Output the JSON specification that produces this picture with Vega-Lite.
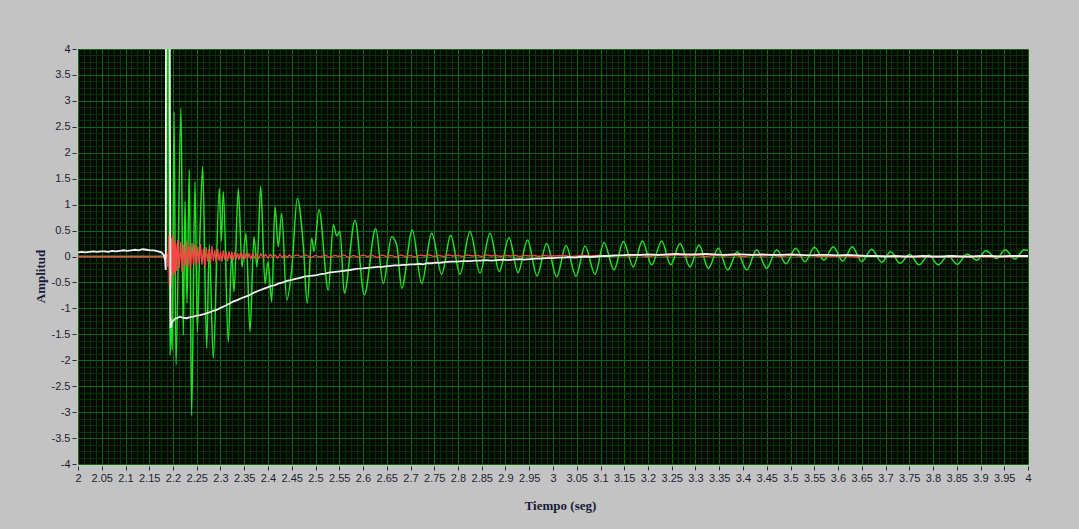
{
  "$schema": "https://vega.github.io/schema/vega-lite/v6.json",
  "width": 950,
  "height": 415,
  "autosize": {"type": "none"},
  "padding": {"left": 78, "top": 49, "right": 51, "bottom": 65},
  "background": "#c3c3c3",
  "config": {"view": {"fill": "#010901", "stroke": null}},
  "datasets": {
    "green": [
      {"t":2,"v":0},{"t":2.1866,"v":0},{"t":2.1874,"v":4.6},{"t":2.1898,"v":4.6},{"t":2.1937,"v":-1.9},{"t":2.1965,"v":-1.2},{"t":2.1985,"v":-1.8},
      {"t":2.2021,"v":2.79},{"t":2.2063,"v":-2.09},{"t":2.2168,"v":2.86},{"t":2.2216,"v":-1.51},{"t":2.2253,"v":1.06},{"t":2.2295,"v":-0.9},
      {"t":2.2343,"v":1.67},{"t":2.2392,"v":-3.06},{"t":2.2463,"v":1.44},{"t":2.2512,"v":-1.45},{"t":2.257,"v":0.5},{"t":2.2625,"v":1.73},
      {"t":2.2709,"v":-1.77},{"t":2.2764,"v":0.22},{"t":2.2848,"v":-1.96},{"t":2.2975,"v":1.31},{"t":2.3017,"v":0.3},{"t":2.3059,"v":1.25},
      {"t":2.3164,"v":-1.64},{"t":2.3236,"v":0.09},{"t":2.3284,"v":-0.68},{"t":2.3375,"v":1.31},{"t":2.3453,"v":-0.2},{"t":2.3537,"v":0.45},
      {"t":2.3621,"v":-1.45},{"t":2.3705,"v":0.38},{"t":2.3768,"v":-0.2},{"t":2.3846,"v":1.35},{"t":2.3937,"v":-0.52},{"t":2.4,"v":-0.1},
      {"t":2.4078,"v":-0.87},{"t":2.4147,"v":0.96},{"t":2.4217,"v":0.19},{"t":2.4288,"v":0.83},{"t":2.4394,"v":-0.84},{"t":2.4499,"v":-0.26},
      {"t":2.4617,"v":1.12},{"t":2.4743,"v":0.22},{"t":2.4827,"v":-0.9},{"t":2.492,"v":0.35},{"t":2.4968,"v":0.1},{"t":2.5074,"v":0.9},
      {"t":2.527,"v":-0.65},{"t":2.5375,"v":0.61},{"t":2.5446,"v":0.4},{"t":2.5516,"v":0.48},{"t":2.5606,"v":-0.71},{"t":2.5832,"v":0.7},
      {"t":2.6027,"v":-0.74},{"t":2.6267,"v":0.54},{"t":2.6427,"v":-0.52},{"t":2.6604,"v":0.38},{"t":2.6709,"v":0.22},{"t":2.6815,"v":-0.61},
      {"t":2.7038,"v":0.51},{"t":2.7236,"v":-0.52},
      {"t":2.7446,"v":0.45},{"t":2.7657,"v":-0.34},{"t":2.7846,"v":0.41},{"t":2.8042,"v":-0.34},{"t":2.8253,"v":0.48},{"t":2.8463,"v":-0.32},
      {"t":2.8674,"v":0.45},{"t":2.8869,"v":-0.29},{"t":2.9074,"v":0.36},{"t":2.9263,"v":-0.31},{"t":2.9463,"v":0.32},{"t":2.9663,"v":-0.37},
      {"t":2.9867,"v":0.25},{"t":3.0078,"v":-0.39},{"t":3.0274,"v":0.21},{"t":3.0484,"v":-0.38},{"t":3.0674,"v":0.2},{"t":3.0884,"v":-0.34},
      {"t":3.1074,"v":0.27},{"t":3.1284,"v":-0.26},{"t":3.148,"v":0.29},{"t":3.1691,"v":-0.2},{"t":3.188,"v":0.3},{"t":3.2078,"v":-0.16},
      {"t":3.2288,"v":0.3},{"t":3.2478,"v":-0.16},{"t":3.2674,"v":0.25},{"t":3.2884,"v":-0.2},{"t":3.3074,"v":0.22},{"t":3.327,"v":-0.23},
      {"t":3.348,"v":0.16},{"t":3.3678,"v":-0.26},{"t":3.388,"v":0.09},{"t":3.4078,"v":-0.26},{"t":3.4288,"v":0.13},{"t":3.4499,"v":-0.23},
      {"t":3.4709,"v":0.13},{"t":3.4905,"v":-0.14},{"t":3.5109,"v":0.16},{"t":3.5305,"v":-0.1},{"t":3.5505,"v":0.18},{"t":3.5705,"v":-0.07},
      {"t":3.5901,"v":0.19},{"t":3.6099,"v":-0.09},{"t":3.6301,"v":0.19},{"t":3.6499,"v":-0.1},{"t":3.6709,"v":0.14},{"t":3.692,"v":-0.11},
      {"t":3.7109,"v":0.09},{"t":3.7305,"v":-0.13},{"t":3.7509,"v":0.04},{"t":3.7705,"v":-0.16},{"t":3.7912,"v":0.03},{"t":3.8112,"v":-0.16},
      {"t":3.8314,"v":0.02},{"t":3.8512,"v":-0.15},{"t":3.8716,"v":0.05},{"t":3.892,"v":-0.07},{"t":3.9116,"v":0.11},{"t":3.9341,"v":-0.04},
      {"t":3.9516,"v":0.13},{"t":3.9726,"v":-0.05},{"t":3.9916,"v":0.13},{"t":4,"v":0.12}
    ],
    "red": [
      {"t":2,"v":0},{"t":2.186,"v":0},{"t":2.188,"v":0.05},{"t":2.1895,"v":-0.2},{"t":2.191,"v":0.4},{"t":2.1925,"v":-0.55},{"t":2.194,"v":0.45},
      {"t":2.1955,"v":-0.6},{"t":2.197,"v":0.35},{"t":2.1985,"v":-0.4},{"t":2.2,"v":0.42},{"t":2.2015,"v":-0.3},{"t":2.203,"v":0.3},
      {"t":2.2045,"v":-0.35},{"t":2.206,"v":0.25},{"t":2.2078,"v":-0.28},{"t":2.21,"v":0.32},{"t":2.213,"v":-0.22},{"t":2.216,"v":0.28},
      {"t":2.219,"v":-0.3},{"t":2.222,"v":0.22},{"t":2.225,"v":-0.18},{"t":2.228,"v":0.3},{"t":2.231,"v":-0.2},{"t":2.234,"v":0.2},
      {"t":2.237,"v":-0.25},{"t":2.24,"v":0.26},{"t":2.243,"v":-0.15},{"t":2.246,"v":0.22},{"t":2.249,"v":-0.2},{"t":2.252,"v":0.18},
      {"t":2.255,"v":-0.12},{"t":2.258,"v":0.24},{"t":2.261,"v":-0.16},{"t":2.264,"v":0.15},{"t":2.267,"v":-0.2},{"t":2.27,"v":0.18},
      {"t":2.273,"v":-0.1},{"t":2.276,"v":0.14},{"t":2.279,"v":-0.14},{"t":2.282,"v":0.2},{"t":2.285,"v":-0.08},{"t":2.288,"v":0.12},
      {"t":2.291,"v":-0.12},{"t":2.294,"v":0.15},{"t":2.297,"v":-0.08},{"t":2.3,"v":0.1},{"t":2.303,"v":-0.1},{"t":2.306,"v":0.12},
      {"t":2.309,"v":-0.06},{"t":2.312,"v":0.09},{"t":2.315,"v":-0.09},{"t":2.318,"v":0.1},{"t":2.321,"v":-0.05},{"t":2.324,"v":0.08},
      {"t":2.327,"v":-0.07},{"t":2.33,"v":0.09},{"t":2.333,"v":-0.05},{"t":2.336,"v":0.06},{"t":2.339,"v":-0.06},{"t":2.342,"v":0.08},
      {"t":2.345,"v":-0.04},{"t":2.348,"v":0.05},{"t":2.351,"v":-0.05},{"t":2.354,"v":0.07},{"t":2.357,"v":-0.03},{"t":2.36,"v":0.05},
      {"t":2.364,"v":-0.04},{"t":2.368,"v":0.06},{"t":2.372,"v":-0.03},{"t":2.376,"v":0.04},{"t":2.38,"v":-0.04},{"t":2.385,"v":0.05},
      {"t":2.39,"v":-0.02},{"t":2.395,"v":0.04},{"t":2.4,"v":-0.03},{"t":2.405,"v":0.04},{"t":2.41,"v":-0.02},{"t":2.415,"v":0.03},
      {"t":2.42,"v":-0.03},{"t":2.425,"v":0.04},{"t":2.43,"v":-0.02},{"t":2.435,"v":0.03},{"t":2.44,"v":-0.02},{"t":2.445,"v":0.03},
      {"t":2.45,"v":-0.01},{"t":2.46,"v":0.03},{"t":2.47,"v":0},{"t":2.48,"v":0.03},{"t":2.49,"v":-0.02},{"t":2.5,"v":0.02},{"t":2.51,"v":-0.01},
      {"t":2.52,"v":0.03},{"t":2.53,"v":-0.02},{"t":2.54,"v":0.02},{"t":2.55,"v":0},{"t":2.56,"v":0.03},{"t":2.57,"v":-0.02},{"t":2.58,"v":0.02},
      {"t":2.59,"v":-0.01},{"t":2.6,"v":0.03},{"t":2.61,"v":0},{"t":2.62,"v":0.02},{"t":2.63,"v":-0.02},{"t":2.64,"v":0.03},{"t":2.65,"v":0},
      {"t":2.66,"v":0.02},{"t":2.67,"v":-0.01},{"t":2.68,"v":0.03},{"t":2.69,"v":0},{"t":2.7,"v":0.02},{"t":2.71,"v":-0.01},{"t":2.72,"v":0.03},
      {"t":2.73,"v":0.01},{"t":2.74,"v":0.03},{"t":2.75,"v":0},{"t":2.76,"v":0.02},{"t":2.77,"v":0},{"t":2.78,"v":0.03},{"t":2.79,"v":0.01},
      {"t":2.8,"v":0.02},{"t":2.81,"v":0},{"t":2.82,"v":0.03},{"t":2.83,"v":0.01},{"t":2.84,"v":0.02},{"t":2.85,"v":0},{"t":2.86,"v":0.03},
      {"t":2.87,"v":0.01},{"t":2.88,"v":0.02},{"t":2.89,"v":0},{"t":2.9,"v":0.02},{"t":2.91,"v":0.01},{"t":2.92,"v":0.02},{"t":2.93,"v":0},
      {"t":2.94,"v":0.02},{"t":2.95,"v":0.01},{"t":2.96,"v":0.02},{"t":2.97,"v":0},{"t":2.98,"v":0.02},{"t":2.99,"v":0.01},{"t":3,"v":0.01},
      {"t":3.02,"v":0.02},{"t":3.04,"v":0},{"t":3.06,"v":0.02},{"t":3.08,"v":0.01},{"t":3.1,"v":0.02},{"t":3.12,"v":0},{"t":3.14,"v":0.02},
      {"t":3.16,"v":0.01},{"t":3.18,"v":0.02},{"t":3.2,"v":0},{"t":3.22,"v":0.02},{"t":3.24,"v":0.01},{"t":3.26,"v":0.03},{"t":3.28,"v":0.01},
      {"t":3.3,"v":0.02},{"t":3.32,"v":0},{"t":3.34,"v":0.02},{"t":3.36,"v":0.01},{"t":3.38,"v":0.02},{"t":3.4,"v":0},{"t":3.42,"v":0.02},
      {"t":3.44,"v":0.01},{"t":3.46,"v":0.02},{"t":3.48,"v":0},{"t":3.5,"v":0.02},{"t":3.52,"v":0.01},{"t":3.54,"v":0.02},{"t":3.56,"v":0},
      {"t":3.58,"v":0.01},{"t":3.6,"v":0},{"t":3.62,"v":0.01},{"t":3.64,"v":-0.01},{"t":3.66,"v":0.01},{"t":3.68,"v":0},{"t":3.7,"v":0.01},
      {"t":3.72,"v":-0.01},{"t":3.74,"v":0},{"t":3.76,"v":-0.01},{"t":3.78,"v":0},{"t":3.8,"v":-0.01},{"t":3.82,"v":0},{"t":3.84,"v":-0.01},
      {"t":3.86,"v":0},{"t":3.88,"v":-0.01},{"t":3.9,"v":0},{"t":3.92,"v":-0.01},{"t":3.94,"v":0},{"t":3.96,"v":-0.01},{"t":3.98,"v":0},{"t":4,"v":0}
    ],
    "white": [
      {"t":2,"v":0.08},{"t":2.008,"v":0.09},{"t":2.016,"v":0.08},{"t":2.024,"v":0.09},{"t":2.032,"v":0.1},{"t":2.04,"v":0.09},{"t":2.048,"v":0.1},
      {"t":2.056,"v":0.1},{"t":2.064,"v":0.09},{"t":2.072,"v":0.11},{"t":2.08,"v":0.1},{"t":2.088,"v":0.11},{"t":2.096,"v":0.12},{"t":2.104,"v":0.11},
      {"t":2.112,"v":0.12},{"t":2.12,"v":0.13},{"t":2.128,"v":0.12},{"t":2.136,"v":0.14},{"t":2.144,"v":0.13},{"t":2.152,"v":0.12},{"t":2.16,"v":0.12},
      {"t":2.168,"v":0.1},{"t":2.176,"v":0.08},{"t":2.181,"v":0.02},{"t":2.1835,"v":-0.08},{"t":2.1847,"v":-0.26},{"t":2.1852,"v":4.6},
      {"t":2.1932,"v":4.6},{"t":2.1936,"v":2.6},{"t":2.195,"v":-1.38},{"t":2.1973,"v":-1.28},{"t":2.2005,"v":-1.24},{"t":2.2042,"v":-1.2},
      {"t":2.208,"v":-1.19},{"t":2.2147,"v":-1.16},{"t":2.22,"v":-1.18},{"t":2.2288,"v":-1.19},{"t":2.236,"v":-1.17},{"t":2.2427,"v":-1.16},
      {"t":2.25,"v":-1.14},{"t":2.2568,"v":-1.13},{"t":2.265,"v":-1.11},{"t":2.275,"v":-1.08},{"t":2.284,"v":-1.05},{"t":2.292,"v":-1.03},
      {"t":2.3,"v":-0.99},{"t":2.31,"v":-0.95},{"t":2.318,"v":-0.91},{"t":2.3263,"v":-0.87},{"t":2.335,"v":-0.84},{"t":2.345,"v":-0.8},
      {"t":2.354,"v":-0.77},{"t":2.3621,"v":-0.74},{"t":2.372,"v":-0.69},{"t":2.38,"v":-0.66},{"t":2.389,"v":-0.63},{"t":2.3973,"v":-0.6},
      {"t":2.406,"v":-0.57},{"t":2.415,"v":-0.55},{"t":2.423,"v":-0.52},{"t":2.4316,"v":-0.5},{"t":2.44,"v":-0.47},{"t":2.45,"v":-0.45},
      {"t":2.458,"v":-0.43},{"t":2.4674,"v":-0.41},{"t":2.476,"v":-0.39},{"t":2.485,"v":-0.38},{"t":2.494,"v":-0.37},{"t":2.5025,"v":-0.36},
      {"t":2.511,"v":-0.34},{"t":2.52,"v":-0.33},{"t":2.528,"v":-0.31},{"t":2.5368,"v":-0.3},{"t":2.546,"v":-0.29},{"t":2.555,"v":-0.28},
      {"t":2.564,"v":-0.27},{"t":2.5726,"v":-0.26},{"t":2.586,"v":-0.24},{"t":2.6,"v":-0.23},{"t":2.61,"v":-0.22},{"t":2.621,"v":-0.21},
      {"t":2.63,"v":-0.2},{"t":2.64,"v":-0.2},{"t":2.648,"v":-0.19},{"t":2.6568,"v":-0.18},{"t":2.666,"v":-0.17},{"t":2.675,"v":-0.17},
      {"t":2.684,"v":-0.16},{"t":2.692,"v":-0.16},{"t":2.7,"v":-0.15},{"t":2.71,"v":-0.15},{"t":2.718,"v":-0.14},{"t":2.7263,"v":-0.15},
      {"t":2.735,"v":-0.13},{"t":2.745,"v":-0.13},{"t":2.752,"v":-0.12},{"t":2.7621,"v":-0.12},{"t":2.772,"v":-0.11},{"t":2.785,"v":-0.1},
      {"t":2.797,"v":-0.1},{"t":2.8105,"v":-0.09},{"t":2.825,"v":-0.09},{"t":2.835,"v":-0.08},{"t":2.845,"v":-0.08},{"t":2.86,"v":-0.07},
      {"t":2.87,"v":-0.08},{"t":2.8821,"v":-0.07},{"t":2.895,"v":-0.06},{"t":2.905,"v":-0.07},{"t":2.915,"v":-0.06},{"t":2.93,"v":-0.05},
      {"t":2.94,"v":-0.06},{"t":2.9516,"v":-0.05},{"t":2.965,"v":-0.04},{"t":2.975,"v":-0.04},{"t":2.985,"v":-0.03},{"t":3,"v":-0.03},
      {"t":3.01,"v":-0.02},{"t":3.0211,"v":-0.02},{"t":3.035,"v":-0.01},{"t":3.045,"v":-0.02},{"t":3.055,"v":-0.01},{"t":3.07,"v":0},
      {"t":3.08,"v":-0.01},{"t":3.0926,"v":0},{"t":3.105,"v":0.01},{"t":3.115,"v":0.01},{"t":3.13,"v":0.02},{"t":3.145,"v":0.02},
      {"t":3.155,"v":0.03},{"t":3.1684,"v":0.03},{"t":3.185,"v":0.03},{"t":3.2,"v":0.04},{"t":3.22,"v":0.03},{"t":3.24,"v":0.04},
      {"t":3.26,"v":0.05},{"t":3.28,"v":0.04},{"t":3.3,"v":0.04},{"t":3.32,"v":0.05},{"t":3.34,"v":0.04},{"t":3.36,"v":0.03},
      {"t":3.38,"v":0.04},{"t":3.4,"v":0.04},{"t":3.42,"v":0.03},{"t":3.44,"v":0.04},{"t":3.46,"v":0.03},{"t":3.48,"v":0.03},
      {"t":3.5,"v":0.04},{"t":3.52,"v":0.03},{"t":3.54,"v":0.02},{"t":3.56,"v":0.03},{"t":3.58,"v":0.03},{"t":3.6,"v":0.02},
      {"t":3.62,"v":0.03},{"t":3.64,"v":0.02},{"t":3.66,"v":0.01},{"t":3.68,"v":0.01},{"t":3.7,"v":0},{"t":3.72,"v":0.01},
      {"t":3.74,"v":0},{"t":3.76,"v":0},{"t":3.78,"v":0.01},{"t":3.8,"v":0},{"t":3.82,"v":0},{"t":3.84,"v":0.01},{"t":3.86,"v":0},
      {"t":3.88,"v":0},{"t":3.9,"v":0.01},{"t":3.92,"v":0.01},{"t":3.94,"v":0},{"t":3.96,"v":0.01},{"t":3.98,"v":0.01},{"t":4,"v":0.01}
    ]
  },
  "layer": [
    {
      "data": {"name": "green"},
      "mark": {"type": "line", "interpolate": "monotone", "color": "#22e022", "strokeWidth": 1.5, "clip": true},
      "encoding": {
        "x": {"field": "t", "type": "quantitative", "scale": {"domain": [2, 4], "nice": false, "zero": false},
          "axis": {"orient": "bottom", "title": null, "labels": false, "ticks": false, "domain": false, "grid": true, "gridColor": "#063206", "gridOpacity": 1, "gridWidth": 1,
            "values": [2.0125,2.025,2.0375,2.0625,2.075,2.0875,2.1125,2.125,2.1375,2.1625,2.175,2.1875,2.2125,2.225,2.2375,2.2625,2.275,2.2875,2.3125,2.325,2.3375,2.3625,2.375,2.3875,2.4125,2.425,2.4375,2.4625,2.475,2.4875,2.5125,2.525,2.5375,2.5625,2.575,2.5875,2.6125,2.625,2.6375,2.6625,2.675,2.6875,2.7125,2.725,2.7375,2.7625,2.775,2.7875,2.8125,2.825,2.8375,2.8625,2.875,2.8875,2.9125,2.925,2.9375,2.9625,2.975,2.9875,3.0125,3.025,3.0375,3.0625,3.075,3.0875,3.1125,3.125,3.1375,3.1625,3.175,3.1875,3.2125,3.225,3.2375,3.2625,3.275,3.2875,3.3125,3.325,3.3375,3.3625,3.375,3.3875,3.4125,3.425,3.4375,3.4625,3.475,3.4875,3.5125,3.525,3.5375,3.5625,3.575,3.5875,3.6125,3.625,3.6375,3.6625,3.675,3.6875,3.7125,3.725,3.7375,3.7625,3.775,3.7875,3.8125,3.825,3.8375,3.8625,3.875,3.8875,3.9125,3.925,3.9375,3.9625,3.975,3.9875]}},
        "y": {"field": "v", "type": "quantitative", "scale": {"domain": [-4, 4], "nice": false, "zero": false},
          "axis": {"orient": "left", "title": null, "labels": false, "ticks": false, "domain": false, "grid": true, "gridColor": "#063206", "gridOpacity": 1, "gridWidth": 1,
            "values": [-3.875,-3.75,-3.625,-3.375,-3.25,-3.125,-2.875,-2.75,-2.625,-2.375,-2.25,-2.125,-1.875,-1.75,-1.625,-1.375,-1.25,-1.125,-0.875,-0.75,-0.625,-0.375,-0.25,-0.125,0.125,0.25,0.375,0.625,0.75,0.875,1.125,1.25,1.375,1.625,1.75,1.875,2.125,2.25,2.375,2.625,2.75,2.875,3.125,3.25,3.375,3.625,3.75,3.875]}}
      }
    },
    {
      "data": {"name": "red"},
      "mark": {"type": "line", "color": "#ff4646", "strokeWidth": 1.3, "clip": true},
      "encoding": {
        "x": {"field": "t", "type": "quantitative",
          "axis": {"orient": "bottom", "title": null, "labels": false, "ticks": false, "domain": false, "grid": true, "gridColor": "#0e680e", "gridOpacity": 1, "gridWidth": 1,
            "values": [2,2.05,2.1,2.15,2.2,2.25,2.3,2.35,2.4,2.45,2.5,2.55,2.6,2.65,2.7,2.75,2.8,2.85,2.9,2.95,3,3.05,3.1,3.15,3.2,3.25,3.3,3.35,3.4,3.45,3.5,3.55,3.6,3.65,3.7,3.75,3.8,3.85,3.9,3.95,4]}},
        "y": {"field": "v", "type": "quantitative",
          "axis": {"orient": "left", "title": null, "labels": false, "ticks": false, "domain": false, "grid": true, "gridColor": "#0e680e", "gridOpacity": 1, "gridWidth": 1,
            "values": [-4,-3.5,-3,-2.5,-2,-1.5,-1,-0.5,0,0.5,1,1.5,2,2.5,3,3.5,4]}}
      }
    },
    {
      "data": {"name": "white"},
      "mark": {"type": "line", "color": "#f2f2f2", "strokeWidth": 1.8, "clip": true},
      "encoding": {
        "x": {"field": "t", "type": "quantitative",
          "axis": {"orient": "bottom", "grid": false, "domain": false, "ticks": true, "tickSize": 4, "tickColor": "#2a2a3a", "tickWidth": 1, "offset": 2,
            "labelExpr": "'' + datum.value", "labelFont": "Liberation Sans Narrow, Liberation Sans, sans-serif", "labelFontSize": 11, "labelColor": "#1e1e32",
            "labelPadding": 2, "labelOverlap": false, "labelFlush": false,
            "title": "Tiempo (seg)", "titleFont": "Liberation Serif", "titleFontSize": 13, "titleFontWeight": "bold", "titleColor": "#1a1a3a",
            "titleX": 482, "titleY": 43, "titleAlign": "center", "titleBaseline": "alphabetic",
            "values": [2,2.05,2.1,2.15,2.2,2.25,2.3,2.35,2.4,2.45,2.5,2.55,2.6,2.65,2.7,2.75,2.8,2.85,2.9,2.95,3,3.05,3.1,3.15,3.2,3.25,3.3,3.35,3.4,3.45,3.5,3.55,3.6,3.65,3.7,3.75,3.8,3.85,3.9,3.95,4]}},
        "y": {"field": "v", "type": "quantitative",
          "axis": {"orient": "left", "grid": false, "domain": false, "ticks": true, "tickSize": 4, "tickColor": "#2a2a3a", "tickWidth": 1, "offset": 2,
            "labelExpr": "'' + datum.value", "labelFont": "Liberation Sans Narrow, Liberation Sans, sans-serif", "labelFontSize": 11, "labelColor": "#1e1e32",
            "labelPadding": 2, "labelOverlap": false, "labelFlush": false,
            "title": "Amplitud", "titleFont": "Liberation Serif", "titleFontSize": 13, "titleFontWeight": "bold", "titleColor": "#1a1a3a",
            "titleAngle": 270, "titleX": -32, "titleY": 227, "titleAlign": "center", "titleBaseline": "alphabetic",
            "values": [-4,-3.5,-3,-2.5,-2,-1.5,-1,-0.5,0,0.5,1,1.5,2,2.5,3,3.5,4]}}
      }
    }
  ],
  "resolve": {"axis": {"x": "independent", "y": "independent"}}
}
